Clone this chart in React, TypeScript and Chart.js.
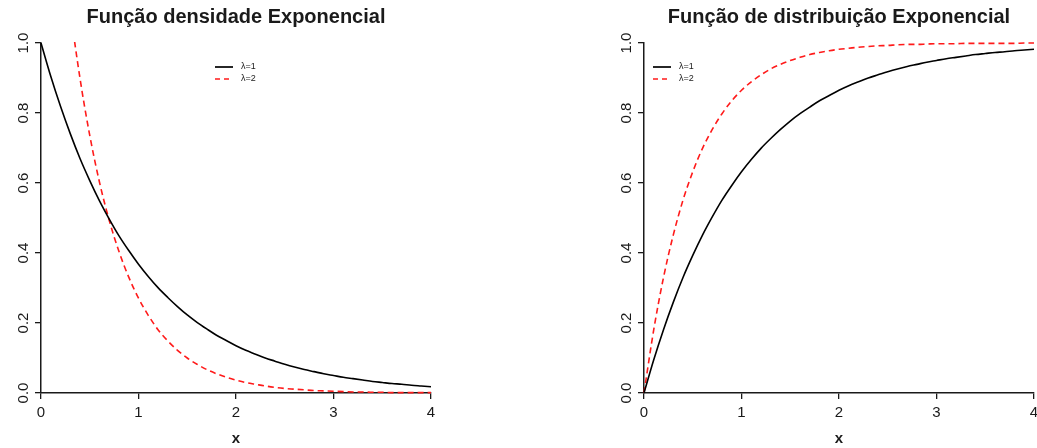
import React, { useEffect, useRef } from "react";
import { Chart, registerables } from "chart.js";

Chart.register(...registerables);

// x grid
const X_VALUES = [
  0, 0.1, 0.2, 0.3, 0.4, 0.5, 0.6, 0.7, 0.8, 0.9,
  1.0, 1.1, 1.2, 1.3, 1.4, 1.5, 1.6, 1.7, 1.8, 1.9,
  2.0, 2.1, 2.2, 2.3, 2.4, 2.5, 2.6, 2.7, 2.8, 2.9,
  3.0, 3.1, 3.2, 3.3, 3.4, 3.5, 3.6, 3.7, 3.8, 3.9, 4.0,
];

// density, lambda = 1
const DENS_L1 = [
  1.0, 0.905, 0.819, 0.741, 0.670, 0.607, 0.549, 0.497, 0.449, 0.407,
  0.368, 0.333, 0.301, 0.273, 0.247, 0.223, 0.202, 0.183, 0.165, 0.150,
  0.135, 0.122, 0.111, 0.100, 0.091, 0.082, 0.074, 0.067, 0.061, 0.055,
  0.050, 0.045, 0.041, 0.037, 0.033, 0.030, 0.027, 0.025, 0.022, 0.020, 0.018,
];

// density, lambda = 2
const DENS_L2 = [
  2.0, 1.637, 1.341, 1.098, 0.899, 0.736, 0.602, 0.493, 0.404, 0.331,
  0.271, 0.222, 0.181, 0.149, 0.122, 0.100, 0.082, 0.067, 0.055, 0.045,
  0.037, 0.030, 0.025, 0.020, 0.016, 0.013, 0.011, 0.009, 0.007, 0.006,
  0.005, 0.004, 0.003, 0.003, 0.002, 0.002, 0.001, 0.001, 0.001, 0.001, 0.001,
];

// distribution, lambda = 1
const CDF_L1 = [
  0.0, 0.095, 0.181, 0.259, 0.330, 0.393, 0.451, 0.503, 0.551, 0.593,
  0.632, 0.667, 0.699, 0.727, 0.753, 0.777, 0.798, 0.817, 0.835, 0.850,
  0.865, 0.878, 0.889, 0.900, 0.909, 0.918, 0.926, 0.933, 0.939, 0.945,
  0.950, 0.955, 0.959, 0.963, 0.967, 0.970, 0.973, 0.975, 0.978, 0.980, 0.982,
];

// distribution, lambda = 2
const CDF_L2 = [
  0.0, 0.181, 0.330, 0.451, 0.551, 0.632, 0.699, 0.753, 0.798, 0.835,
  0.865, 0.889, 0.909, 0.926, 0.939, 0.950, 0.959, 0.967, 0.973, 0.978,
  0.982, 0.985, 0.988, 0.990, 0.992, 0.993, 0.995, 0.996, 0.996, 0.997,
  0.998, 0.998, 0.998, 0.999, 0.999, 0.999, 0.999, 0.999, 0.999, 1.0, 1.0,
];

const X_TICKS = [0, 1, 2, 3, 4];
const Y_TICKS = [0, 0.2, 0.4, 0.6, 0.8, 1.0];
const LEGEND_LABELS = ["λ=1", "λ=2"];
const TITLES = ["Função densidade Exponencial", "Função de distribuição Exponencial"];

const FONT = "'Liberation Sans', Arial, Helvetica, sans-serif";
const INK = "#1a1a1a";
const RED = "#ff1a1a";
const DASH = [6, 4];

function legendPlugin(offsetX: number, offsetY: number) {
  return {
    id: "rLegend",
    afterDatasetsDraw(chart: any) {
      const { ctx, chartArea } = chart;
      const x0 = chartArea.left + offsetX;
      const y0 = chartArea.top + offsetY;
      const rowH = 12;
      ctx.save();
      ctx.font = `9px ${FONT}`;
      ctx.textBaseline = "middle";
      ctx.textAlign = "left";
      chart.data.datasets.forEach((ds: any, i: number) => {
        const y = y0 + i * rowH;
        ctx.beginPath();
        ctx.strokeStyle = ds.borderColor;
        ctx.lineWidth = 1.7;
        ctx.setLineDash(ds.borderDash ? [5, 4] : []);
        ctx.moveTo(x0, y);
        ctx.lineTo(x0 + 18, y);
        ctx.stroke();
        ctx.setLineDash([]);
        ctx.fillStyle = INK;
        ctx.fillText(LEGEND_LABELS[i], x0 + 26, y);
      });
      ctx.restore();
    },
  };
}

function makeConfig(title: string, s1: number[], s2: number[], legX: number, legY: number): any {
  return {
    type: "line",
    data: {
      datasets: [
        {
          label: LEGEND_LABELS[0],
          data: X_VALUES.map((x, i) => ({ x, y: s1[i] })),
          borderColor: "#000",
          borderWidth: 1.6,
          pointRadius: 0,
          cubicInterpolationMode: "monotone",
          clip: { left: 2, top: 1, right: 2, bottom: 2 },
        },
        {
          label: LEGEND_LABELS[1],
          data: X_VALUES.map((x, i) => ({ x, y: s2[i] })),
          borderColor: RED,
          borderWidth: 1.6,
          borderDash: DASH,
          pointRadius: 0,
          cubicInterpolationMode: "monotone",
          clip: { left: 2, top: 1, right: 2, bottom: 2 },
        },
      ],
    },
    options: {
      animation: false,
      responsive: false,
      devicePixelRatio: 1,
      layout: { padding: { left: 0, right: 41, top: 0, bottom: 0 } },
      plugins: {
        legend: { display: false },
        tooltip: { enabled: false },
        title: {
          display: true,
          fullSize: false,
          text: title,
          color: INK,
          font: { family: FONT, size: 20, weight: "bold", lineHeight: 1.2 },
          padding: { top: 5, bottom: 14 },
        },
      },
      scales: {
        x: {
          type: "linear",
          min: 0,
          max: 4,
          afterBuildTicks: (s: any) => {
            s.ticks = X_TICKS.map((v) => ({ value: v }));
          },
          ticks: {
            color: INK,
            font: { family: FONT, size: 15 },
            padding: 5,
            callback: (v: any) => String(v),
          },
          grid: { drawOnChartArea: false, tickLength: 6, color: INK, lineWidth: 1.3 },
          border: { display: true, color: INK, width: 1.5 },
          title: {
            display: true,
            text: "x",
            color: INK,
            font: { family: FONT, size: 15, weight: "bold", lineHeight: 1.2 },
            padding: { top: 0, bottom: 0 },
          },
          afterFit: (s: any) => {
            s.height = 55;
          },
        },
        y: {
          type: "linear",
          min: 0,
          max: 1,
          afterBuildTicks: (s: any) => {
            s.ticks = Y_TICKS.map((v) => ({ value: v }));
          },
          ticks: {
            color: INK,
            font: { family: FONT, size: 15 },
            padding: 1,
            minRotation: 90,
            maxRotation: 90,
            crossAlign: "center",
            callback: (v: any) => Number(v).toFixed(1),
          },
          grid: { drawOnChartArea: false, tickLength: 6, color: INK, lineWidth: 1.3 },
          border: { display: true, color: INK, width: 1.5 },
          afterFit: (s: any) => {
            s.width = 41;
          },
        },
      },
    },
    plugins: [legendPlugin(legX, legY)],
  };
}

function Panel(props: { left: number; config: any }) {
  const ref = useRef<HTMLCanvasElement | null>(null);
  useEffect(() => {
    if (!ref.current) return;
    const chart = new Chart(ref.current, props.config);
    return () => chart.destroy();
  }, []);
  return (
    <canvas
      ref={ref}
      width={472}
      height={448}
      style={{ position: "absolute", left: props.left, top: 0, width: 472, height: 448 }}
    />
  );
}

export default function App() {
  const leftCfg = makeConfig(TITLES[0], DENS_L1, DENS_L2, 174, 24);
  const rightCfg = makeConfig(TITLES[1], CDF_L1, CDF_L2, 9, 24);
  return (
    <div
      style={{
        position: "fixed",
        left: 0,
        top: 0,
        width: 1037,
        height: 448,
        overflow: "hidden",
        background: "#fff",
      }}
    >
      <Panel left={0} config={leftCfg} />
      <Panel left={603} config={rightCfg} />
    </div>
  );
}
